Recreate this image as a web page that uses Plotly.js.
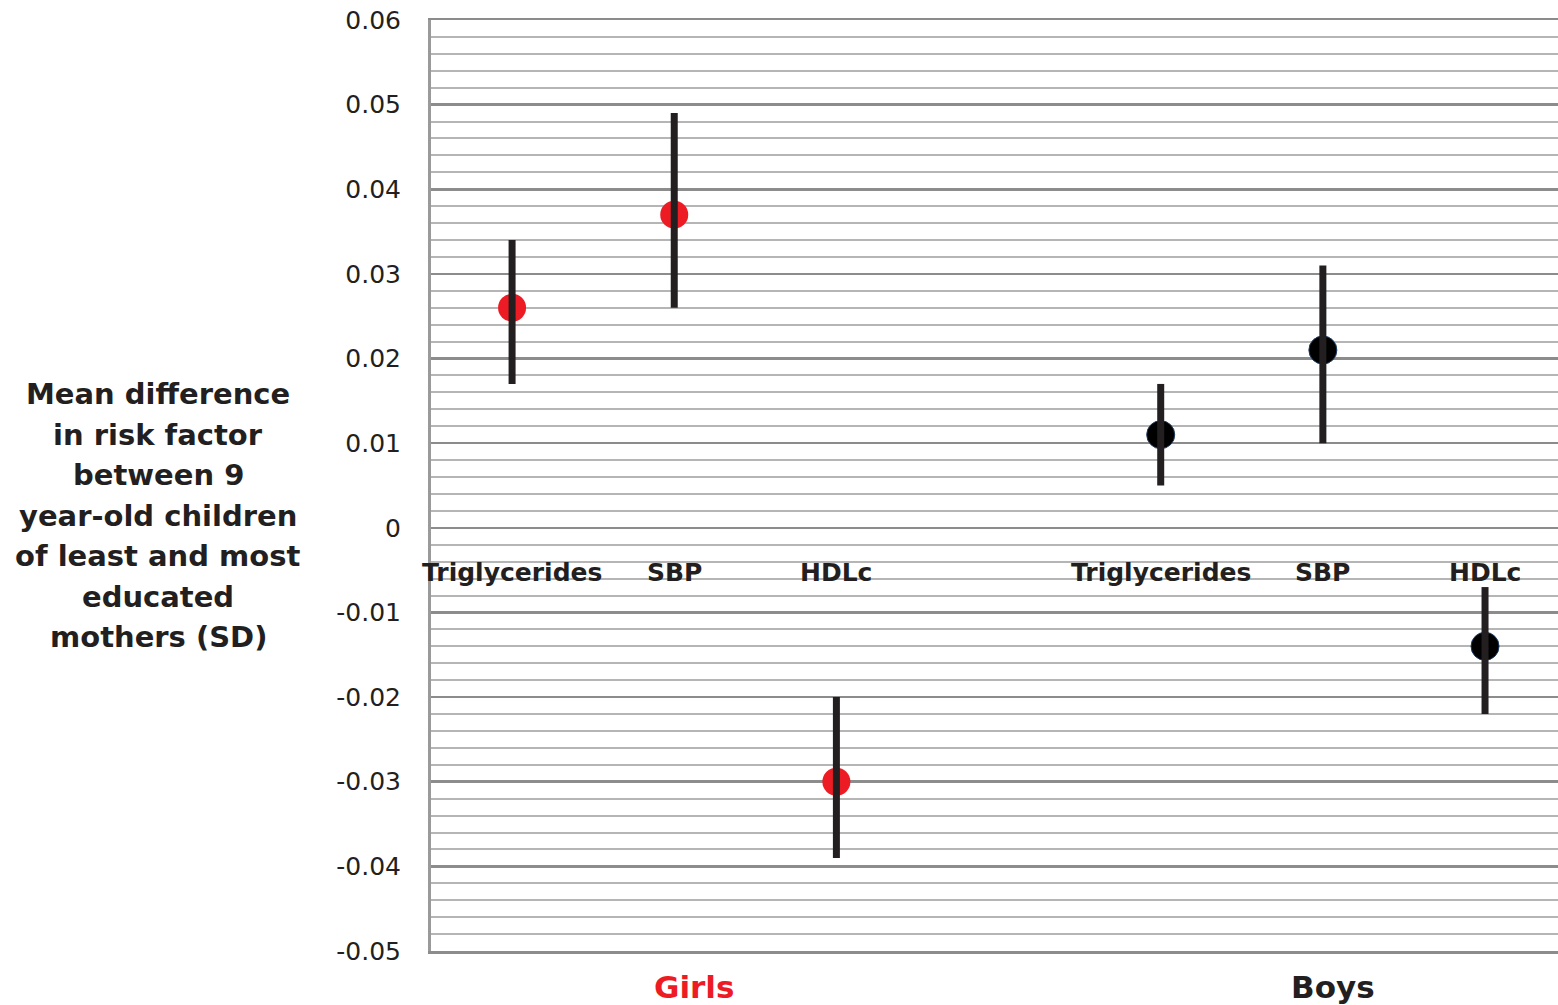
<!DOCTYPE html>
<html>
<head>
<meta charset="utf-8">
<script src="https://cdn.plot.ly/plotly-3.0.1.min.js"></script>
<style>
  html, body { margin: 0; padding: 0; background: #ffffff; }
  #chart { width: 1558px; height: 1005px; }
</style>
</head>
<body>
<div id="chart"></div>
<script>
// ---- data ----
const categories = ['Triglycerides', 'SBP', 'HDLc'];
const groups = ['Girls', 'Boys'];
const girlsMean  = [0.026, 0.037, -0.030];
const girlsLower = [0.017, 0.026, -0.039];
const girlsUpper = [0.034, 0.049, -0.020];
const boysMean   = [0.011, 0.021, -0.014];
const boysLower  = [0.005, 0.010, -0.022];
const boysUpper  = [0.017, 0.031, -0.007];
const yTickVals  = [0.06, 0.05, 0.04, 0.03, 0.02, 0.01, 0, -0.01, -0.02, -0.03, -0.04, -0.05];
const yTickText  = ['0.06', '0.05', '0.04', '0.03', '0.02', '0.01', '0', '-0.01', '-0.02', '-0.03', '-0.04', '-0.05'];
const yTitleLines = ['Mean difference', 'in risk factor', 'between 9', 'year-old children',
                     'of least and most', 'educated', 'mothers (SD)'];

// ---- layout constants ----
const W = 1558, H = 1005;
const M = { l: 431, r: 0, t: 20, b: 54 };
const plotH = H - M.t - M.b;
const groupOffset = [0.5, 4.5];
const groupColors = ['#ed1c24', '#000000'];
const FONT = 'DejaVu Sans, Arial, sans-serif';
const DARK = '#231f20';

const means = [girlsMean, boysMean];
const lowers = [girlsLower, boysLower];
const uppers = [girlsUpper, boysUpper];

const traces = [];
groups.forEach((g, gi) => {
  const xs = categories.map((c, i) => i + groupOffset[gi]);
  traces.push({
    type: 'scatter', mode: 'markers', x: xs, y: means[gi], name: g,
    marker: { size: 28, color: groupColors[gi],
              line: { width: gi === 1 ? 1 : 0, color: '#1b3b63' } },
    hoverinfo: 'skip', showlegend: false
  });
});
groups.forEach((g, gi) => {
  const xs = categories.map((c, i) => i + groupOffset[gi]);
  traces.push({
    type: 'scatter', mode: 'markers', x: xs, y: means[gi], name: g + ' CI',
    marker: { size: 1, color: 'rgba(0,0,0,0)' },
    error_y: {
      type: 'data', symmetric: false,
      array: means[gi].map((m, i) => uppers[gi][i] - m),
      arrayminus: means[gi].map((m, i) => m - lowers[gi][i]),
      color: DARK, thickness: 7, width: 0
    },
    hoverinfo: 'skip', showlegend: false
  });
});

const annotations = [];
groups.forEach((g, gi) => {
  categories.forEach((c, i) => {
    annotations.push({
      xref: 'x', yref: 'y', x: i + groupOffset[gi], y: 0, yshift: -45,
      text: '<b>' + c + '</b>', showarrow: false,
      xanchor: 'center', yanchor: 'middle',
      font: { family: FONT, size: 25, color: DARK }
    });
  });
});
const groupShift = [20, 10];
groups.forEach((g, gi) => {
  annotations.push({
    xref: 'x', yref: 'paper', x: 1 + groupOffset[gi], y: 0, xshift: groupShift[gi], yshift: -36,
    text: '<b>' + g + '</b>', showarrow: false,
    xanchor: 'center', yanchor: 'middle',
    font: { family: FONT, size: 31, color: gi === 0 ? '#ed1c24' : DARK }
  });
});
yTitleLines.forEach((line, i) => {
  const py = 394 + 40.5 * i;
  annotations.push({
    xref: 'paper', yref: 'paper', x: (158 - M.l) / (W - M.l - M.r), y: 1 - (py - M.t) / plotH,
    text: '<b>' + line + '</b>', showarrow: false,
    xanchor: 'center', yanchor: 'middle',
    font: { family: FONT, size: 29, color: DARK }
  });
});

const layout = {
  width: W, height: H,
  margin: M,
  paper_bgcolor: '#ffffff', plot_bgcolor: '#ffffff',
  showlegend: false,
  xaxis: {
    range: [0, 6.95], showgrid: false, zeroline: false,
    showline: true, mirror: true, linecolor: '#8c8c8c', linewidth: 2.5,
    showticklabels: false, ticks: '', fixedrange: true
  },
  yaxis: {
    range: [-0.05, 0.06], tickmode: 'array', tickvals: yTickVals, ticktext: yTickText,
    showgrid: true, gridcolor: '#8c8c8c', gridwidth: 2.5,
    minor: { dtick: 0.002, tick0: 0, showgrid: true, gridcolor: '#b5b5b5', gridwidth: 2, ticks: '' },
    zeroline: false, showline: true, linecolor: '#9a9a9a', linewidth: 3,
    ticks: '', ticklabelstandoff: 22,
    tickfont: { family: FONT, size: 25, color: DARK }, fixedrange: true
  },
  annotations: annotations
};

Plotly.newPlot('chart', traces, layout, { staticPlot: true, displayModeBar: false });
</script>
</body>
</html>
